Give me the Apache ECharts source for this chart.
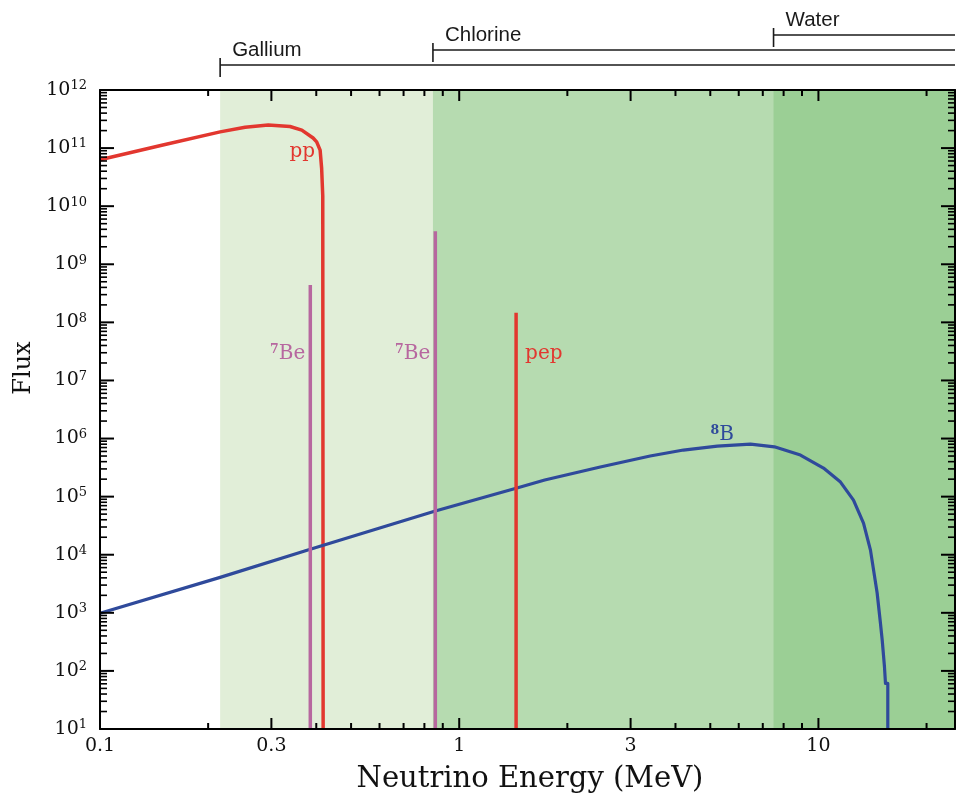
<!DOCTYPE html>
<html>
<head>
<meta charset="utf-8">
<script src="https://cdn.jsdelivr.net/npm/echarts@6/dist/echarts.min.js"></script>
<style>
html,body{margin:0;padding:0;background:#ffffff;}
#chart{width:956px;height:795px;}
</style>
</head>
<body>
<div id="chart"></div>
<script>
// ---------- axis ranges ----------
const X_MIN = 0.1, X_MAX = 24, Y_MIN = 10, Y_MAX = 1e12;

// ---------- data ----------
const ppEnergy = [0.1, 0.1486, 0.216, 0.2535, 0.294, 0.338, 0.3646, 0.392, 0.401, 0.410, 0.414, 0.417, 0.418];
const ppFlux   = [6.3e10, 1.12e11, 1.9e11, 2.28e11, 2.49e11, 2.35e11, 2.04e11, 1.49e11, 1.28e11, 9.2e10, 4.5e10, 1.5e10, 10];

const b8Energy = [0.1, 0.216, 0.385, 0.858, 1.44, 1.73, 2.47, 3.40, 4.21, 5.23, 6.47, 7.54, 8.91, 10.33, 11.52, 12.52, 13.35, 13.96, 14.57, 14.88, 15.05, 15.27, 15.37, 15.60, 15.60];
const b8Flux   = [980, 4.08e3, 1.24e4, 5.65e4, 1.39e5, 1.93e5, 3.23e5, 5.0e5, 6.34e5, 7.43e5, 8.04e5, 7.2e5, 5.2e5, 3.1e5, 1.78e5, 8.7e4, 3.5e4, 1.2e4, 2.19e3, 667, 340, 118, 61, 61, 10];

const be7Energy = [0.385, 0.858];
const be7Flux   = [4.4e8, 3.7e9];

const pepEnergy = [1.44];
const pepFlux   = [1.46e8];

const detectorNames      = ['Gallium', 'Chlorine', 'Water'];
const detectorThresholds = [0.216, 0.845, 7.5];

const xMajorTicks = [0.1, 0.3, 1, 3, 10];
const xTickLabels = ['0.1', '0.3', '1', '3', '10'];
const xMinorTicks = [0.2, 0.4, 0.5, 0.6, 0.7, 0.8, 0.9, 2, 4, 5, 6, 7, 8, 9, 20];
const yDecadeExponents = [1, 2, 3, 4, 5, 6, 7, 8, 9, 10, 11, 12];
const yMinorMultipliers = [2, 3, 4, 5, 6, 7, 8, 9];

// ---------- styles ----------
const RED = '#e2372f', PURPLE = '#b7679f', BLUE = '#2f4a9b';
const BAND_COLORS = ['#e1eed8', '#b6dbb0', '#9bcf95'];
const SERIF = '"DejaVu Serif", serif';
const SANS = '"Liberation Sans", Arial, sans-serif';

// ---------- derived tables ----------
const toPairs = (xs, ys) => xs.map((x, i) => [x, ys[i]]);
const stick = (x, top) => [[x, Y_MIN], [x, top]];

const xTickData = [];
xMajorTicks.forEach((v, i) => xTickData.push([v, Y_MIN, 1, i]));
xMinorTicks.forEach(v => xTickData.push([v, Y_MIN, 0, -1]));

const yTickData = [];
yDecadeExponents.forEach(e => yTickData.push([X_MIN, Math.pow(10, e), 1, e]));
yDecadeExponents.slice(0, -1).forEach(e =>
  yMinorMultipliers.forEach(m => yTickData.push([X_MIN, m * Math.pow(10, e), 0, e])));

const bandData = detectorThresholds.map((t, i) => [t, Y_MAX, i]);

// label annotations anchored in data space
const curveLabels = [
  {text: 'pp', x: ppEnergy[ppEnergy.length - 1], y: 8.7e10, dx: -8, align: 'right', color: RED},
  {text: '{s|7}{n|Be}', x: be7Energy[0], y: 2.85e7, dx: -5, align: 'right', color: PURPLE},
  {text: '{s|7}{n|Be}', x: be7Energy[1], y: 2.85e7, dx: -5, align: 'right', color: PURPLE},
  {text: 'pep', x: pepEnergy[0], y: 2.85e7, dx: 9, align: 'left', color: RED},
  {text: '{s|8}{n|B}', x: 5.01, y: 1.15e6, dx: 0, align: 'left', color: BLUE}
];

const axisCommon = {
  type: 'log', logBase: 10,
  axisLine: {show: true, onZero: false, lineStyle: {color: '#000', width: 2}},
  axisTick: {show: false}, axisLabel: {show: false},
  splitLine: {show: false}, minorTick: {show: false}, minorSplitLine: {show: false},
  z: 5
};

const chart = echarts.init(document.getElementById('chart'), null, {renderer: 'canvas'});

const option = {
  animation: false,
  backgroundColor: '#ffffff',
  grid: {left: 100, right: 1, top: 90, bottom: 66, containLabel: false},
  xAxis: [
    Object.assign({}, axisCommon, {min: X_MIN, max: X_MAX, position: 'bottom'}),
    Object.assign({}, axisCommon, {min: X_MIN, max: X_MAX, position: 'top'})
  ],
  yAxis: [
    Object.assign({}, axisCommon, {min: Y_MIN, max: Y_MAX, position: 'left'}),
    Object.assign({}, axisCommon, {min: Y_MIN, max: Y_MAX, position: 'right'})
  ],
  graphic: [
    {type: 'text', x: 530, y: 779, z: 100,
     style: {text: 'Neutrino Energy (MeV)', fill: '#111', font: '29px ' + SERIF,
             align: 'center', verticalAlign: 'middle', textAlign: 'center', textVerticalAlign: 'middle'}},
    {type: 'text', x: 24, y: 368, rotation: Math.PI / 2, z: 100,
     style: {text: 'Flux', fill: '#111', font: '24px ' + SERIF,
             align: 'center', verticalAlign: 'middle', textAlign: 'center', textVerticalAlign: 'middle'}}
  ],
  series: [
    // detector bands
    {
      type: 'custom', name: 'bands', xAxisIndex: 0, yAxisIndex: 0, z: 1, clip: false, silent: true,
      data: bandData,
      renderItem: function (params, api) {
        const p0 = api.coord([api.value(0), Y_MAX]);
        const p1 = api.coord([X_MAX, Y_MIN]);
        return {type: 'rect', shape: {x: p0[0], y: p0[1], width: p1[0] - p0[0], height: p1[1] - p0[1]},
                style: {fill: BAND_COLORS[api.value(2)]}};
      }
    },
    // detector brackets above the plot
    {
      type: 'custom', name: 'brackets', xAxisIndex: 0, yAxisIndex: 0, z: 6, clip: false, silent: true,
      data: bandData,
      renderItem: function (params, api) {
        const i = api.value(2);
        const p = api.coord([api.value(0), Y_MAX]);
        const right = api.coord([X_MAX, Y_MAX])[0];
        const yL = p[1] - [25, 40, 55][i];
        return {type: 'group', children: [
          {type: 'line', shape: {x1: p[0], y1: yL, x2: right, y2: yL}, style: {stroke: '#1a1a1a', lineWidth: 1.6}},
          {type: 'line', shape: {x1: p[0], y1: yL - 7, x2: p[0], y2: yL + 12}, style: {stroke: '#1a1a1a', lineWidth: 1.6}},
          {type: 'text', x: p[0] + 12, y: yL - 15,
           style: {text: detectorNames[i], fill: '#1a1a1a', font: '20.5px ' + SANS, align: 'left', verticalAlign: 'middle'}}
        ]};
      }
    },
    // spectra
    {type: 'line', name: 'pp', data: toPairs(ppEnergy, ppFlux), showSymbol: false, z: 3,
     lineStyle: {color: RED, width: 3.5, join: 'round'}, smooth: false},
    {type: 'line', name: '8B', data: toPairs(b8Energy, b8Flux), showSymbol: false, z: 3,
     lineStyle: {color: BLUE, width: 3.2, join: 'round'}, smooth: false},
    {type: 'line', name: '7Be 0.38', data: stick(be7Energy[0], be7Flux[0]), showSymbol: false, z: 3,
     lineStyle: {color: PURPLE, width: 3.5}},
    {type: 'line', name: '7Be 0.86', data: stick(be7Energy[1], be7Flux[1]), showSymbol: false, z: 3,
     lineStyle: {color: PURPLE, width: 3.5}},
    {type: 'line', name: 'pep', data: stick(pepEnergy[0], pepFlux[0]), showSymbol: false, z: 3,
     lineStyle: {color: RED, width: 3.5}},
    // curve labels
    {
      type: 'custom', name: 'labels', xAxisIndex: 0, yAxisIndex: 0, z: 4, clip: false, silent: true,
      data: curveLabels.map((l, i) => [l.x, l.y, i]),
      renderItem: function (params, api) {
        const l = curveLabels[api.value(2)];
        const p = api.coord([l.x, l.y]);
        return {type: 'text', x: p[0] + l.dx, y: p[1],
                style: {text: l.text, fill: l.color, fontFamily: SERIF, fontSize: 20,
                        align: l.align, verticalAlign: 'middle',
                        rich: {n: {fontSize: 20, lineHeight: 22, fontFamily: SERIF},
                               s: {fontSize: 12.5, lineHeight: 12, fontFamily: SERIF, fontWeight: 'bold', verticalAlign: 'top'}}}};
      }
    },
    // x ticks + labels
    {
      type: 'custom', name: 'xticks', xAxisIndex: 0, yAxisIndex: 0, z: 6, clip: false, silent: true,
      data: xTickData,
      renderItem: function (params, api) {
        const v = api.value(0), major = api.value(2), li = api.value(3);
        const b = api.coord([v, Y_MIN]), t = api.coord([v, Y_MAX]);
        const len = major ? 11 : 6;
        const children = [
          {type: 'line', shape: {x1: b[0], y1: b[1], x2: b[0], y2: b[1] - len}, style: {stroke: '#000', lineWidth: 2}},
          {type: 'line', shape: {x1: t[0], y1: t[1], x2: t[0], y2: t[1] + len}, style: {stroke: '#000', lineWidth: 2}}
        ];
        if (major) {
          children.push({type: 'text', x: b[0], y: b[1] + 17,
            style: {text: xTickLabels[li], fill: '#111', fontFamily: SERIF, fontSize: 19,
                    align: 'center', verticalAlign: 'middle'}});
        }
        return {type: 'group', children: children};
      }
    },
    // y ticks + labels
    {
      type: 'custom', name: 'yticks', xAxisIndex: 0, yAxisIndex: 0, z: 6, clip: false, silent: true,
      data: yTickData,
      renderItem: function (params, api) {
        const v = api.value(1), major = api.value(2), e = api.value(3);
        const L = api.coord([X_MIN, v]), R = api.coord([X_MAX, v]);
        const len = major ? 14 : 7;
        const lw = major ? 2 : 1.6;
        const children = [
          {type: 'line', shape: {x1: L[0], y1: L[1], x2: L[0] + len, y2: L[1]}, style: {stroke: '#000', lineWidth: lw}},
          {type: 'line', shape: {x1: R[0], y1: R[1], x2: R[0] - len, y2: R[1]}, style: {stroke: '#000', lineWidth: lw}}
        ];
        if (major) {
          children.push({type: 'text', x: L[0] - 13, y: L[1],
            style: {text: '{b|10}{s|' + e + '}', fill: '#111', align: 'right', verticalAlign: 'middle',
                    rich: {b: {fontSize: 19, lineHeight: 21, fontFamily: SERIF, fill: '#111'},
                           s: {fontSize: 13, lineHeight: 12, fontFamily: SERIF, fill: '#111', verticalAlign: 'top'}}}});
        }
        return {type: 'group', children: children};
      }
    }
  ]
};

chart.setOption(option);
</script>
</body>
</html>
